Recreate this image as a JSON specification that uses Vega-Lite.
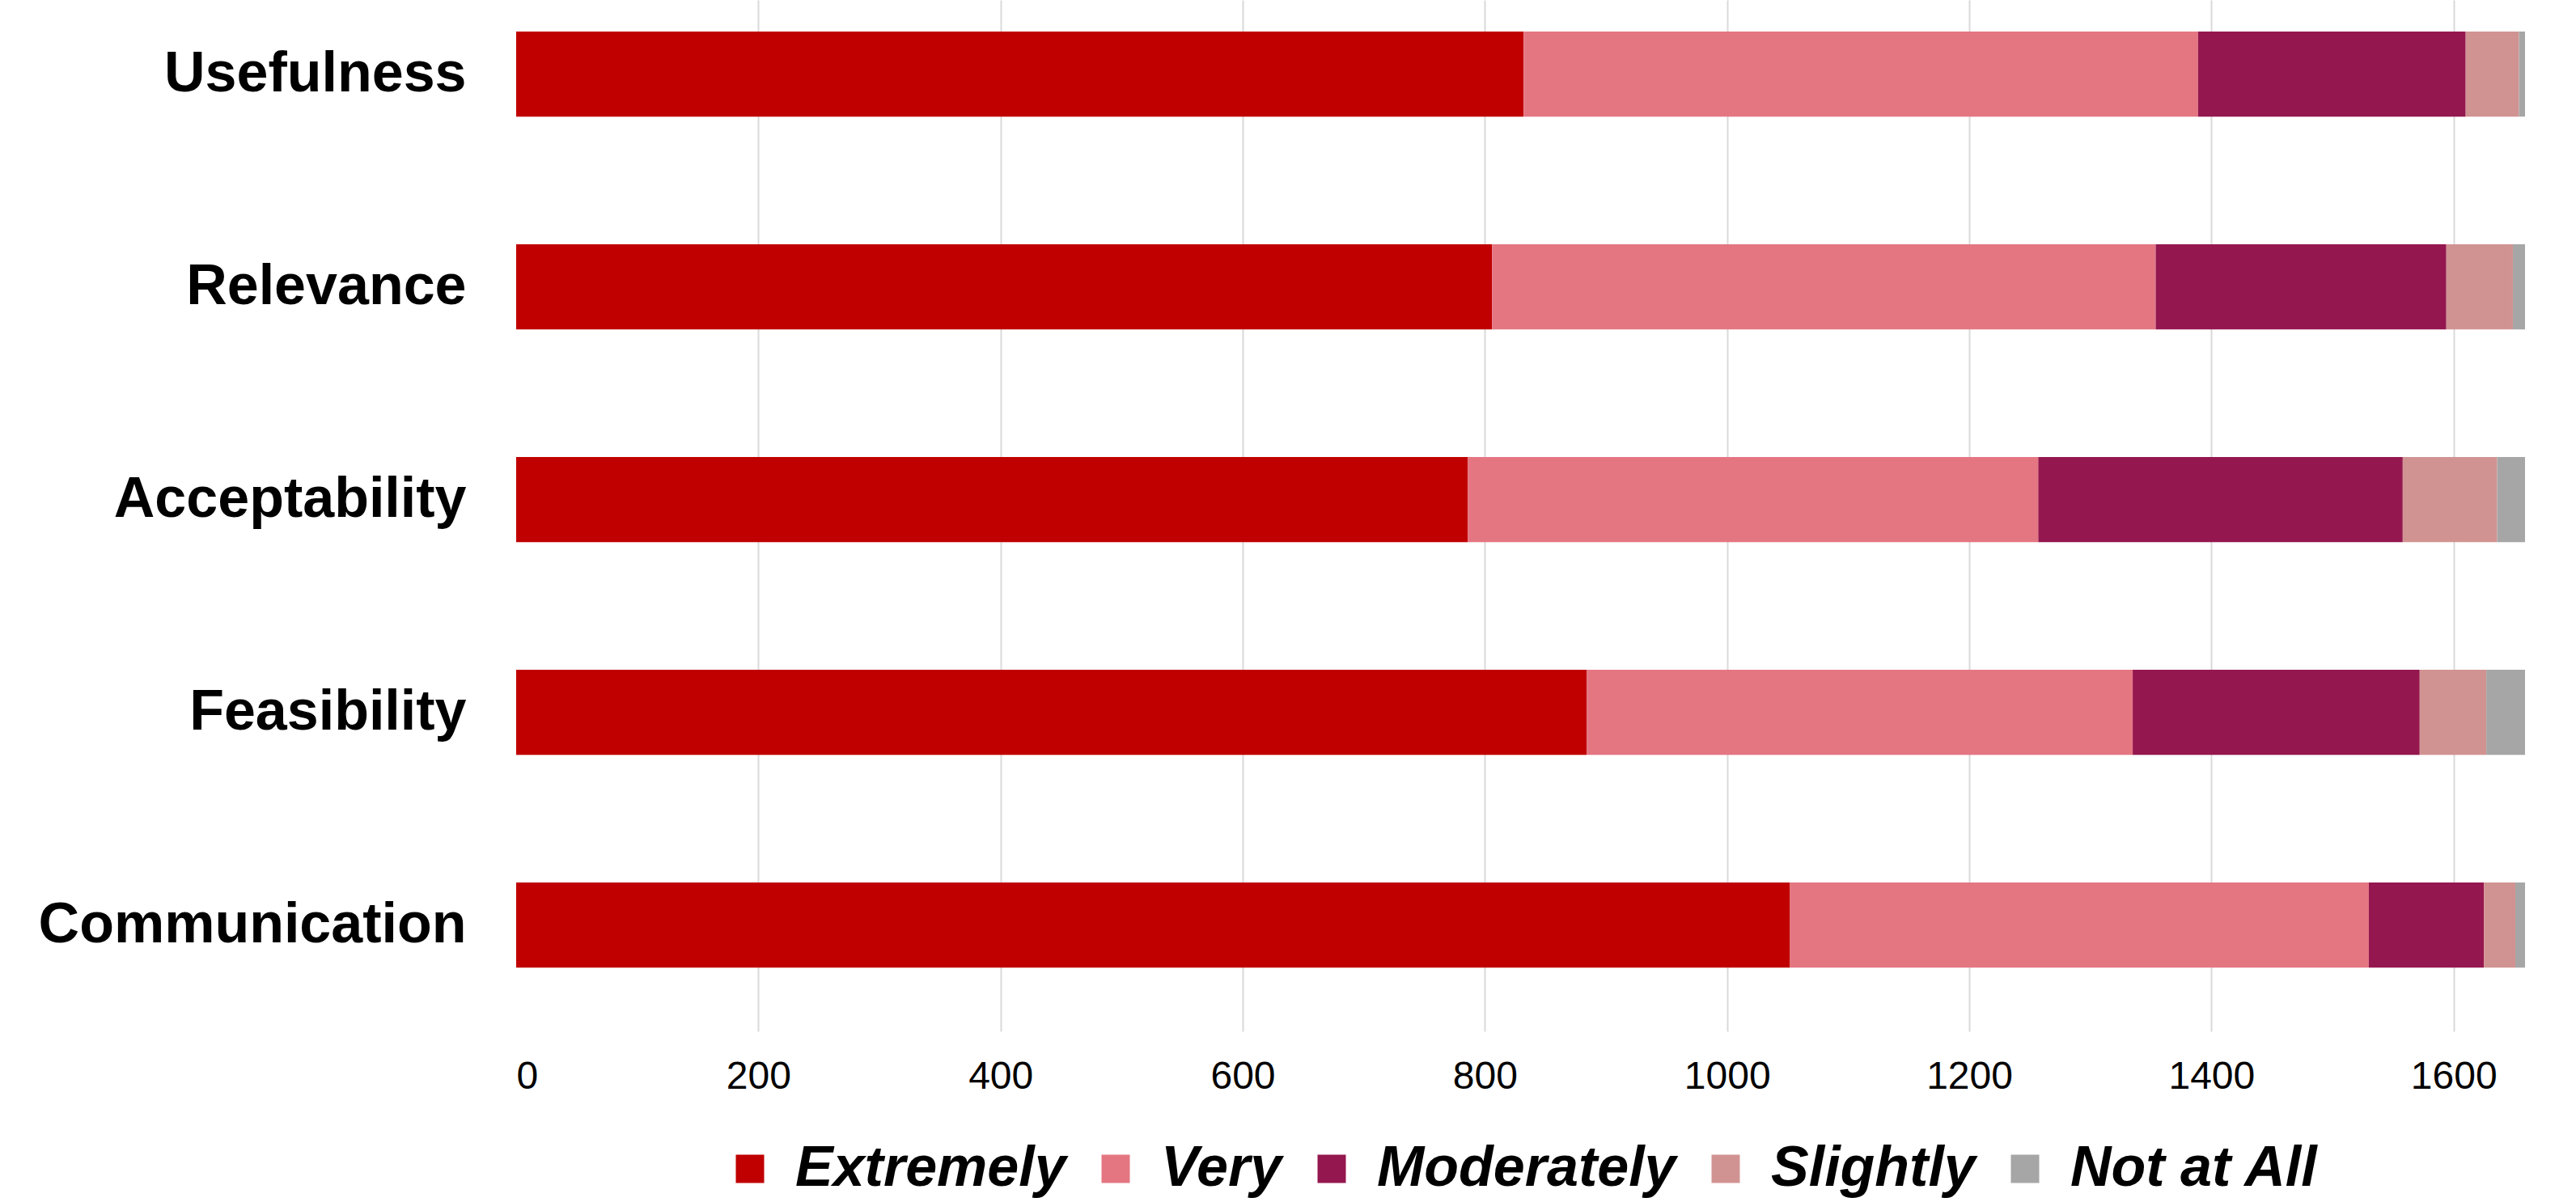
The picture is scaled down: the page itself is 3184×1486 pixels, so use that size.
{
  "$schema": "https://vega.github.io/schema/vega-lite/v6.json",
  "autosize": {"type": "none"},
  "width": 2483,
  "height": 1275,
  "padding": {"left": 638, "top": 0, "right": 63, "bottom": 211},
  "background": "#ffffff",
  "data": {
    "values": [
      {"aspect": "Usefulness", "level": "Extremely", "count": 832},
      {"aspect": "Usefulness", "level": "Very", "count": 557},
      {"aspect": "Usefulness", "level": "Moderately", "count": 221},
      {"aspect": "Usefulness", "level": "Slightly", "count": 44},
      {"aspect": "Usefulness", "level": "Not at All", "count": 5},
      {"aspect": "Relevance", "level": "Extremely", "count": 806},
      {"aspect": "Relevance", "level": "Very", "count": 548},
      {"aspect": "Relevance", "level": "Moderately", "count": 240},
      {"aspect": "Relevance", "level": "Slightly", "count": 55},
      {"aspect": "Relevance", "level": "Not at All", "count": 10},
      {"aspect": "Acceptability", "level": "Extremely", "count": 786},
      {"aspect": "Acceptability", "level": "Very", "count": 471},
      {"aspect": "Acceptability", "level": "Moderately", "count": 301},
      {"aspect": "Acceptability", "level": "Slightly", "count": 78},
      {"aspect": "Acceptability", "level": "Not at All", "count": 23},
      {"aspect": "Feasibility", "level": "Extremely", "count": 884},
      {"aspect": "Feasibility", "level": "Very", "count": 451},
      {"aspect": "Feasibility", "level": "Moderately", "count": 237},
      {"aspect": "Feasibility", "level": "Slightly", "count": 55},
      {"aspect": "Feasibility", "level": "Not at All", "count": 32},
      {"aspect": "Communication", "level": "Extremely", "count": 1052},
      {"aspect": "Communication", "level": "Very", "count": 478},
      {"aspect": "Communication", "level": "Moderately", "count": 95},
      {"aspect": "Communication", "level": "Slightly", "count": 26},
      {"aspect": "Communication", "level": "Not at All", "count": 8}
    ]
  },
  "transform": [
    {"calculate": "indexof(['Extremely','Very','Moderately','Slightly','Not at All'], datum.level)", "as": "rank"}
  ],
  "mark": {"type": "bar"},
  "encoding": {
    "y": {
      "field": "aspect",
      "type": "nominal",
      "sort": ["Usefulness", "Relevance", "Acceptability", "Feasibility", "Communication"],
      "scale": {"paddingInner": 0.6, "paddingOuter": 0.224, "align": 0.331},
      "axis": {
        "title": null,
        "ticks": false,
        "domain": false,
        "labelFont": "Liberation Sans",
        "labelFontWeight": "bold",
        "labelFontSize": 70,
        "labelColor": "#000000",
        "labelPadding": 62,
        "labelLimit": 1000
      }
    },
    "x": {
      "field": "count",
      "type": "quantitative",
      "stack": "zero",
      "scale": {"domain": [0, 1659], "nice": false},
      "axis": {
        "title": null,
        "values": [0, 200, 400, 600, 800, 1000, 1200, 1400, 1600],
        "format": "d",
        "ticks": false,
        "domain": false,
        "grid": true,
        "gridColor": "#D9D9D9",
        "gridWidth": 2,
        "gridOpacity": {"condition": {"test": "datum.value === 0", "value": 0}, "value": 1},
        "labelFont": "Liberation Sans",
        "labelFontSize": 48,
        "labelColor": "#000000",
        "labelPadding": 32
      }
    },
    "color": {
      "field": "level",
      "type": "nominal",
      "sort": ["Extremely", "Very", "Moderately", "Slightly", "Not at All"],
      "scale": {
        "domain": ["Extremely", "Very", "Moderately", "Slightly", "Not at All"],
        "range": ["#C00000", "#E47682", "#95174F", "#D19392", "#A6A6A6"]
      },
      "legend": {
        "title": null,
        "orient": "bottom",
        "direction": "horizontal",
        "symbolType": "square",
        "symbolSize": 1225,
        "symbolStrokeWidth": 0,
        "labelFont": "Liberation Sans",
        "labelFontWeight": "bold",
        "labelFontStyle": "italic",
        "labelFontSize": 70,
        "labelColor": "#000000",
        "labelLimit": 1000,
        "labelOffset": 21,
        "columnPadding": 26,
        "offset": 55
      }
    },
    "order": {"field": "rank", "type": "quantitative"}
  },
  "config": {
    "view": {"stroke": null},
    "legend": {"layout": {"bottom": {"anchor": "middle"}}}
  }
}
